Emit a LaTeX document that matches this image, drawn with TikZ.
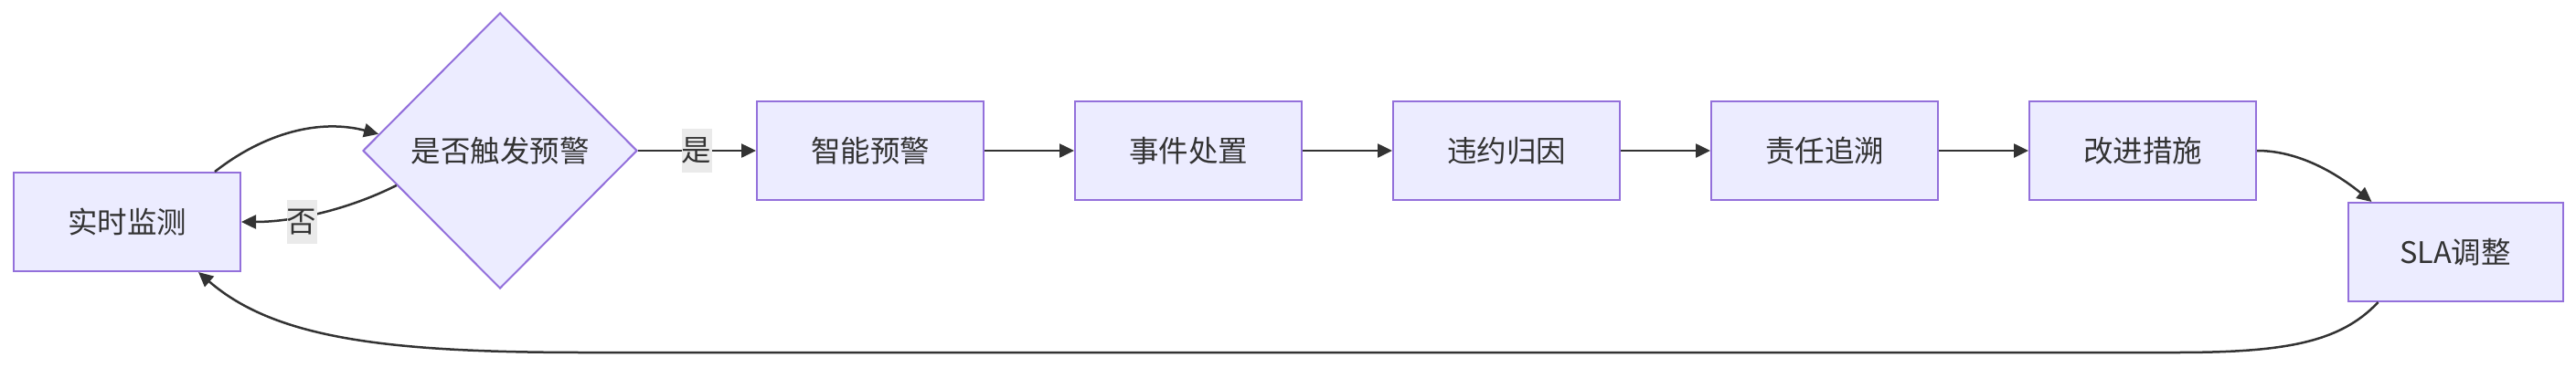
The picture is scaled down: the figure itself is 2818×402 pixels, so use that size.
\documentclass[tikz,border=0pt]{standalone}
\usepackage{fontspec}
\setmainfont{Noto Sans CJK SC}
\usetikzlibrary{shapes.geometric,arrows.meta,calc}
\definecolor{nodefill}{HTML}{ECECFF}
\definecolor{nodeborder}{HTML}{9370DB}
\definecolor{edgecol}{HTML}{333333}
\definecolor{labelbg}{HTML}{EAEAEA}
\begin{document}
\begin{tikzpicture}[x=1pt,y=-1pt,
  every node/.style={font=\fontsize{32.5}{38}\selectfont, text=edgecol},
  box/.style={draw=nodeborder, fill=nodefill, line width=2pt, minimum width=248pt, minimum height=108pt, inner sep=0pt},
  decision/.style={diamond, draw=nodeborder, fill=nodefill, line width=2pt, minimum width=300pt, minimum height=302pt, inner sep=0pt},
  flow/.style={draw=edgecol, line width=2.5pt, -{Triangle[length=16pt,width=15pt]}},
  elabel/.style={fill=labelbg, inner sep=0pt, minimum width=33pt, minimum height=48pt}
]
\useasboundingbox (0,0) rectangle (2818,402);
\node[box] (mon) at (139,243) {实时监测};
\node[decision] (dec) at (547,165) {是否触发预警};
\node[box] (warn) at (952,165) {智能预警};
\node[box] (hand) at (1300,165) {事件处置};
\node[box] (cause) at (1648,165) {违约归因};
\node[box] (trace) at (1996,165) {责任追溯};
\node[box] (imp) at (2344,165) {改进措施};
\node[box, minimum width=235pt] (sla) at (2686,276) {SLA调整};

\draw[flow] ($(mon.north east)+(-29,0)$) .. controls (290,145) and (350,130) .. ($(dec.west)!0.12!(dec.north)$);
\draw[flow] ($(dec.west)!0.25!(dec.south)$) .. controls (380,230) and (320,243) .. (mon.east);
\node[elabel] (no) at (330,243) {否};
\draw[flow] (dec.east) -- (warn.west);
\node[elabel] (yes) at (762,165) {是};
\draw[flow] (warn) -- (hand);
\draw[flow] (hand) -- (cause);
\draw[flow] (cause) -- (trace);
\draw[flow] (trace) -- (imp);
\draw[flow] (imp.east) .. controls (2510,165) and (2550,185) .. ($(sla.north west)+(27,0)$);
\draw[flow] ($(sla.south west)+(34,0)$) .. controls (2560,375) and (2500,386) .. (2380,386) -- (640,386) .. controls (420,386) and (300,370) .. ($(mon.south east)+(-47,0)$);
\end{tikzpicture}
\end{document}
